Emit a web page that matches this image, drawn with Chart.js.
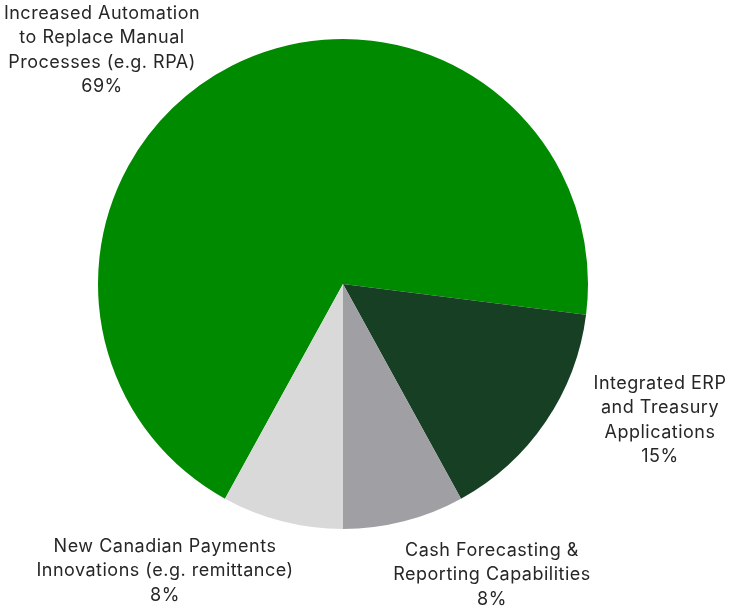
<!DOCTYPE html>
<html>
<head>
<meta charset="utf-8">
<script src="https://cdn.jsdelivr.net/npm/chart.js@4"></script>
<style>
  html, body { margin: 0; padding: 0; background: #fff; }
  #wrap { width: 734px; height: 613px; }
</style>
</head>
<body>
<div id="wrap"><canvas id="pie"></canvas></div>
<script>
// categories and shares (%)
var categories = [
  ["Increased Automation", "to Replace Manual", "Processes (e.g. RPA)"],
  ["Integrated ERP", "and Treasury", "Applications"],
  ["Cash Forecasting &", "Reporting Capabilities"],
  ["New Canadian Payments", "Innovations (e.g. remittance)"]
];
var shares = [69, 15, 8, 8];
var sliceColors = ["#008a00", "#173f24", "#a09fa4", "#d9d9d9"];

// where each label block sits, relative to the pie centre
var labelOffsets = [[-241, -234], [317, 136], [149, 291], [-178, 287]];

var labelPlugin = {
  id: "sliceLabels",
  afterDatasetsDraw: function(chart){
    var ctx = chart.ctx;
    var arcs = chart.getDatasetMeta(0).data;
    ctx.save();
    ctx.font = "18px Inter";
    ctx.letterSpacing = "0.5px";
    ctx.fillStyle = "#262626";
    ctx.textAlign = "center";
    ctx.textBaseline = "middle";
    var lh = 24.6;
    arcs.forEach(function(arc, i){
      var lines = categories[i].concat([shares[i] + "%"]);
      var cx = arc.x + labelOffsets[i][0];
      var cy = arc.y + labelOffsets[i][1];
      var top = cy - (lines.length - 1) * lh / 2;
      lines.forEach(function(t, j){
        ctx.fillText(t, cx, top + j * lh);
      });
    });
    ctx.restore();
  }
};

var ctx = document.getElementById("pie").getContext("2d");
new Chart(ctx, {
  type: "pie",
  data: {
    labels: categories.map(function(c){ return c.join(" "); }),
    datasets: [{
      data: shares,
      backgroundColor: sliceColors,
      borderWidth: 0
    }]
  },
  options: {
    responsive: true,
    maintainAspectRatio: false,
    animation: false,
    rotation: 208.8,
    layout: { padding: { left: 98, right: 146, top: 39, bottom: 84 } },
    plugins: {
      legend: { display: false },
      tooltip: { enabled: false }
    }
  },
  plugins: [labelPlugin]
});
</script>
</body>
</html>
